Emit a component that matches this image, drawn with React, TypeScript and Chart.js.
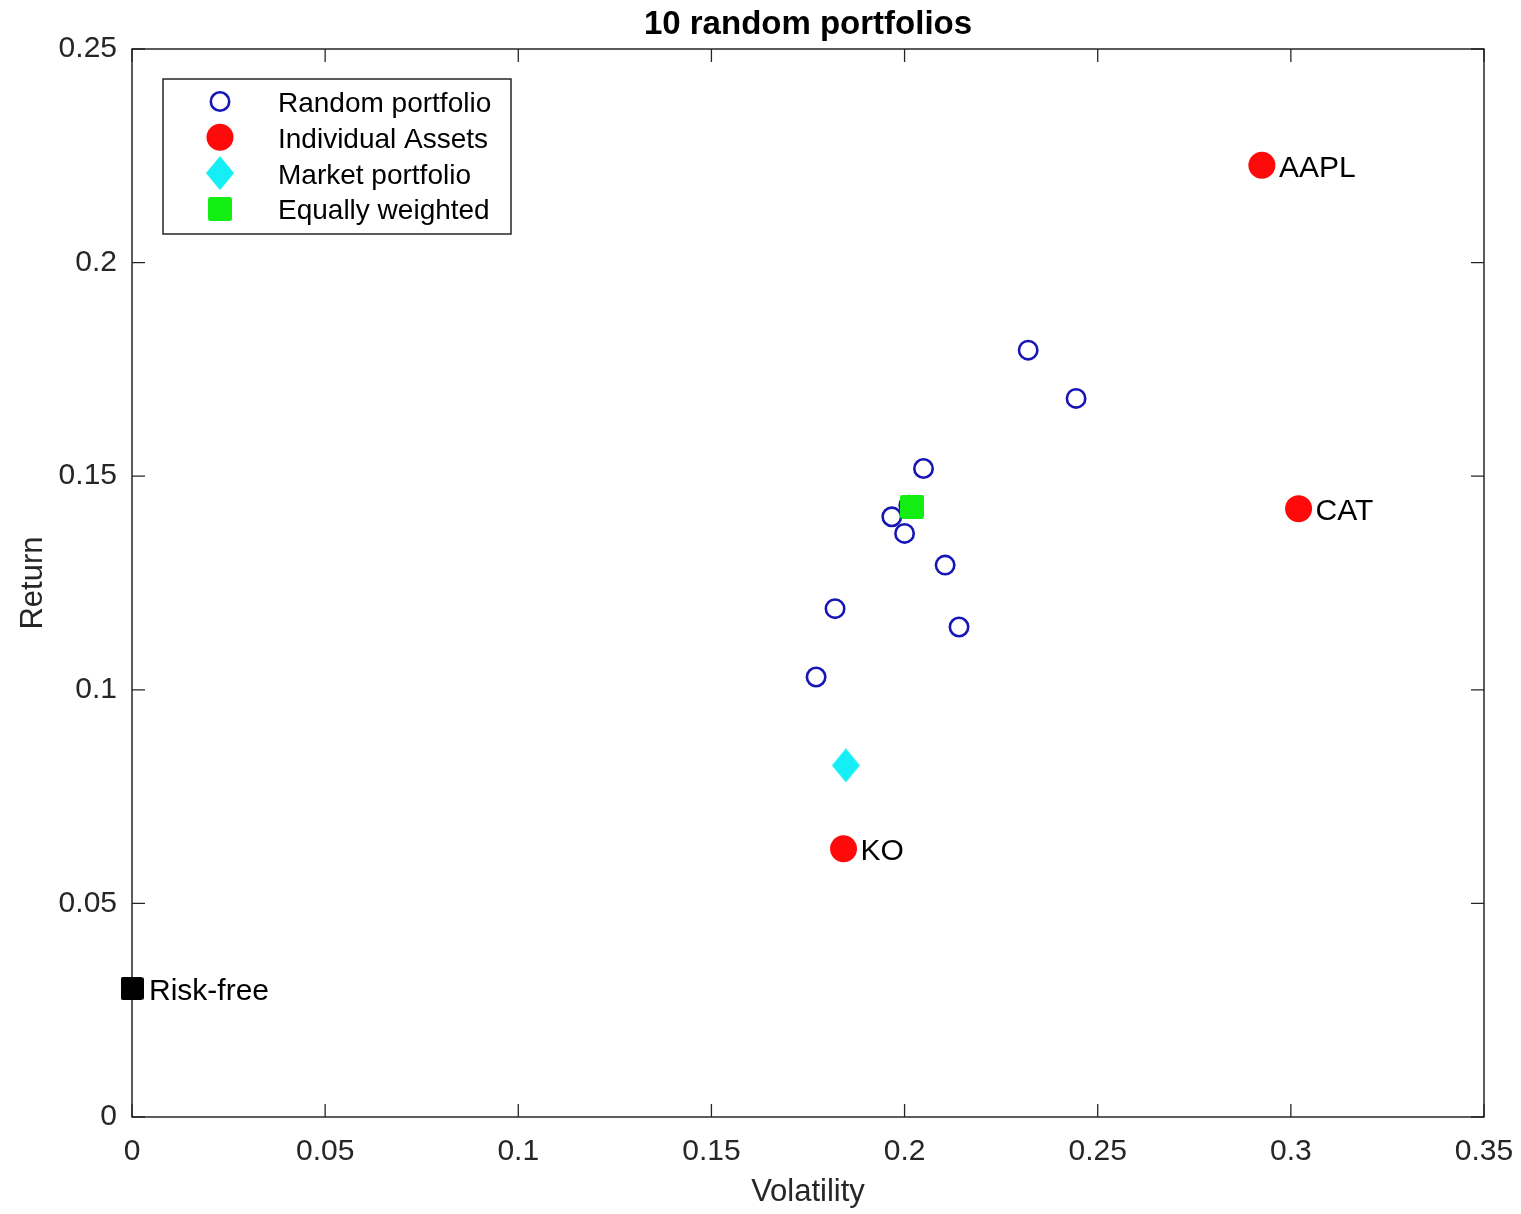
import React, { useEffect, useRef } from 'react';
import { Chart, registerables } from 'chart.js';

Chart.register(...registerables);

// ---- data ----
const randomVolatility = [0.232, 0.2444, 0.2049, 0.1967, 0.2, 0.2105, 0.182, 0.2141, 0.1771, 0.2011];
const randomReturn = [0.1795, 0.1682, 0.1518, 0.1405, 0.1366, 0.1292, 0.119, 0.1147, 0.103, 0.1432];
const assetNames = ['AAPL', 'CAT', 'KO'];
const assetVolatility = [0.2925, 0.302, 0.1842];
const assetReturn = [0.2228, 0.1424, 0.0628];
const marketVolatility = [0.1848];
const marketReturn = [0.0823];
const equalVolatility = [0.202];
const equalReturn = [0.1429];
const riskFreeNames = ['Risk-free'];
const riskFreeVolatility = [0];
const riskFreeReturn = [0.0301];
const xTickValues = [0, 0.05, 0.1, 0.15, 0.2, 0.25, 0.3, 0.35];
const yTickValues = [0, 0.05, 0.1, 0.15, 0.2, 0.25];
const legendLabels = ['Random portfolio', 'Individual Assets', 'Market portfolio', 'Equally weighted'];
const titleText = '10 random portfolios';
const xAxisTitle = 'Volatility';
const yAxisTitle = 'Return';

// ---- style ----
const FONT = '"Liberation Sans", Arial, Helvetica, sans-serif';
const AXIS = '#262626';
const BLUE = '#1616b8';
const RED = '#ff0a0a';
const CYAN = '#14eef5';
const GREEN = '#12ee12';
const BLACK = '#000000';
const TICK_LEN = 13;
const CIRCLE_R = 9.2;
const CIRCLE_W = 2.6;

const fmt = (v: number) => String(Number(v.toFixed(2)));

function makeDiamond(w: number, h: number, color: string) {
  const c = document.createElement('canvas');
  c.width = w;
  c.height = h;
  const g = c.getContext('2d')!;
  g.fillStyle = color;
  g.beginPath();
  g.moveTo(w / 2, 0);
  g.lineTo(w, h / 2);
  g.lineTo(w / 2, h);
  g.lineTo(0, h / 2);
  g.closePath();
  g.fill();
  return c;
}

function makeSquare(size: number, color: string) {
  const c = document.createElement('canvas');
  c.width = size;
  c.height = size;
  const g = c.getContext('2d')!;
  g.fillStyle = color;
  g.beginPath();
  if ((g as any).roundRect) (g as any).roundRect(0, 0, size, size, 2.5);
  else g.rect(0, 0, size, size);
  g.fill();
  return c;
}

const toPoints = (xs: number[], ys: number[]) => xs.map((x, i) => ({ x, y: ys[i] }));

export default function App() {
  const ref = useRef<HTMLCanvasElement | null>(null);

  useEffect(() => {
    document.body.style.margin = '0';
    const canvas = ref.current;
    if (!canvas) return;

    const diamond = makeDiamond(28, 34, CYAN);
    const greenSq = makeSquare(24, GREEN);
    const blackSq = makeSquare(23, BLACK);

    const decor = {
      id: 'decor',
      beforeDatasetsDraw(chart: any) {
        const { ctx, chartArea: a } = chart;
        const xs = chart.scales.x;
        const ys = chart.scales.y;
        ctx.save();
        ctx.strokeStyle = AXIS;
        ctx.lineWidth = 1.5;
        ctx.strokeRect(a.left, a.top, a.right - a.left, a.bottom - a.top);
        ctx.lineWidth = 1.3;
        ctx.beginPath();
        xTickValues.forEach((v) => {
          const p = xs.getPixelForValue(v);
          ctx.moveTo(p, a.bottom);
          ctx.lineTo(p, a.bottom - TICK_LEN);
          ctx.moveTo(p, a.top);
          ctx.lineTo(p, a.top + TICK_LEN);
        });
        yTickValues.forEach((v) => {
          const p = ys.getPixelForValue(v);
          ctx.moveTo(a.left, p);
          ctx.lineTo(a.left + TICK_LEN, p);
          ctx.moveTo(a.right, p);
          ctx.lineTo(a.right - TICK_LEN, p);
        });
        ctx.stroke();
        ctx.restore();
      },
      afterDatasetsDraw(chart: any) {
        const { ctx, chartArea: a } = chart;
        const xs = chart.scales.x;
        const ys = chart.scales.y;
        ctx.save();

        // point labels
        ctx.fillStyle = '#000';
        ctx.font = `30px ${FONT}`;
        ctx.textBaseline = 'alphabetic';
        ctx.textAlign = 'left';
        const names = [...assetNames, ...riskFreeNames];
        const vx = [...assetVolatility, ...riskFreeVolatility];
        const vy = [...assetReturn, ...riskFreeReturn];
        names.forEach((n, i) => {
          const px = xs.getPixelForValue(vx[i]);
          const py = ys.getPixelForValue(vy[i]);
          ctx.fillText(n, px + 17, py + 11.5);
        });

        // legend
        const lx = 163, ly = 79, lw = 348, lh = 155;
        ctx.fillStyle = '#fff';
        ctx.fillRect(lx, ly, lw, lh);
        ctx.strokeStyle = AXIS;
        ctx.lineWidth = 1.5;
        ctx.strokeRect(lx, ly, lw, lh);
        ctx.font = `28px ${FONT}`;
        legendLabels.forEach((label, i) => {
          const base = 112 + i * 35.8;
          const my = base - 10.5;
          const mx = 220;
          if (i === 0) {
            ctx.strokeStyle = BLUE;
            ctx.lineWidth = CIRCLE_W;
            ctx.beginPath();
            ctx.arc(mx, my, CIRCLE_R, 0, Math.PI * 2);
            ctx.stroke();
          } else if (i === 1) {
            ctx.fillStyle = RED;
            ctx.beginPath();
            ctx.arc(mx, my, 13.5, 0, Math.PI * 2);
            ctx.fill();
          } else if (i === 2) {
            ctx.drawImage(diamond, mx - diamond.width / 2, my - diamond.height / 2);
          } else {
            ctx.drawImage(greenSq, mx - greenSq.width / 2, my - greenSq.height / 2);
          }
          ctx.fillStyle = '#000';
          ctx.fillText(label, 278, base);
        });

        // title
        ctx.font = `bold 33px ${FONT}`;
        ctx.textAlign = 'center';
        ctx.fillStyle = '#000';
        ctx.fillText(titleText, (a.left + a.right) / 2, 34);

        // axis titles
        ctx.font = `31px ${FONT}`;
        ctx.fillStyle = AXIS;
        ctx.fillText(xAxisTitle, (a.left + a.right) / 2, 1201);
        ctx.save();
        ctx.translate(42, (a.top + a.bottom) / 2);
        ctx.rotate(-Math.PI / 2);
        ctx.fillText(yAxisTitle, 0, 0);
        ctx.restore();

        ctx.restore();
      },
    };

    const chart = new Chart(canvas, {
      type: 'scatter',
      data: {
        datasets: [
          {
            label: legendLabels[0],
            data: toPoints(randomVolatility, randomReturn),
            pointStyle: 'circle',
            pointRadius: CIRCLE_R,
            pointBorderWidth: CIRCLE_W,
            pointBorderColor: BLUE,
            pointBackgroundColor: 'rgba(0,0,0,0)',
            order: 5,
            clip: false,
          } as any,
          {
            label: legendLabels[1],
            data: toPoints(assetVolatility, assetReturn),
            pointStyle: 'circle',
            pointRadius: 13.5,
            pointBorderWidth: 0,
            pointBorderColor: RED,
            pointBackgroundColor: RED,
            order: 4,
            clip: false,
          },
          {
            label: legendLabels[2],
            data: toPoints(marketVolatility, marketReturn),
            pointStyle: diamond,
            pointRadius: 14,
            order: 3,
            clip: false,
          },
          {
            label: legendLabels[3],
            data: toPoints(equalVolatility, equalReturn),
            pointStyle: greenSq,
            pointRadius: 12,
            order: 2,
            clip: false,
          },
          {
            label: 'Risk-free',
            data: toPoints(riskFreeVolatility, riskFreeReturn),
            pointStyle: blackSq,
            pointRadius: 12,
            order: 1,
            clip: false,
          },
        ],
      },
      options: {
        animation: false,
        responsive: false,
        devicePixelRatio: 1,
        events: [],
        layout: { padding: { top: 49, right: 37, left: 0, bottom: 0 } },
        plugins: {
          legend: { display: false },
          title: { display: false },
          tooltip: { enabled: false },
        },
        scales: {
          x: {
            type: 'linear',
            min: 0,
            max: 0.35,
            grid: { display: false, drawTicks: false },
            border: { display: false },
            afterBuildTicks: (s: any) => {
              s.ticks = xTickValues.map((value) => ({ value }));
            },
            afterFit: (s: any) => {
              s.height = 97;
              s.paddingLeft = 0;
              s.paddingRight = 0;
            },
            ticks: {
              padding: 17,
              color: AXIS,
              font: { family: FONT, size: 30 },
              maxRotation: 0,
              autoSkip: false,
              callback: (v: any) => fmt(Number(v)),
            },
          },
          y: {
            type: 'linear',
            min: 0,
            max: 0.25,
            grid: { display: false, drawTicks: false },
            border: { display: false },
            afterBuildTicks: (s: any) => {
              s.ticks = yTickValues.map((value) => ({ value }));
            },
            afterFit: (s: any) => {
              s.width = 132;
              s.paddingTop = 0;
              s.paddingBottom = 0;
            },
            ticks: {
              padding: 15,
              color: AXIS,
              font: { family: FONT, size: 30 },
              autoSkip: false,
              callback: (v: any) => fmt(Number(v)),
            },
          },
        },
      },
      plugins: [decor],
    } as any);

    return () => chart.destroy();
  }, []);

  return (
    <div style={{ width: 1521, height: 1214 }}>
      <canvas ref={ref} width={1521} height={1214} style={{ display: 'block' }} />
    </div>
  );
}
